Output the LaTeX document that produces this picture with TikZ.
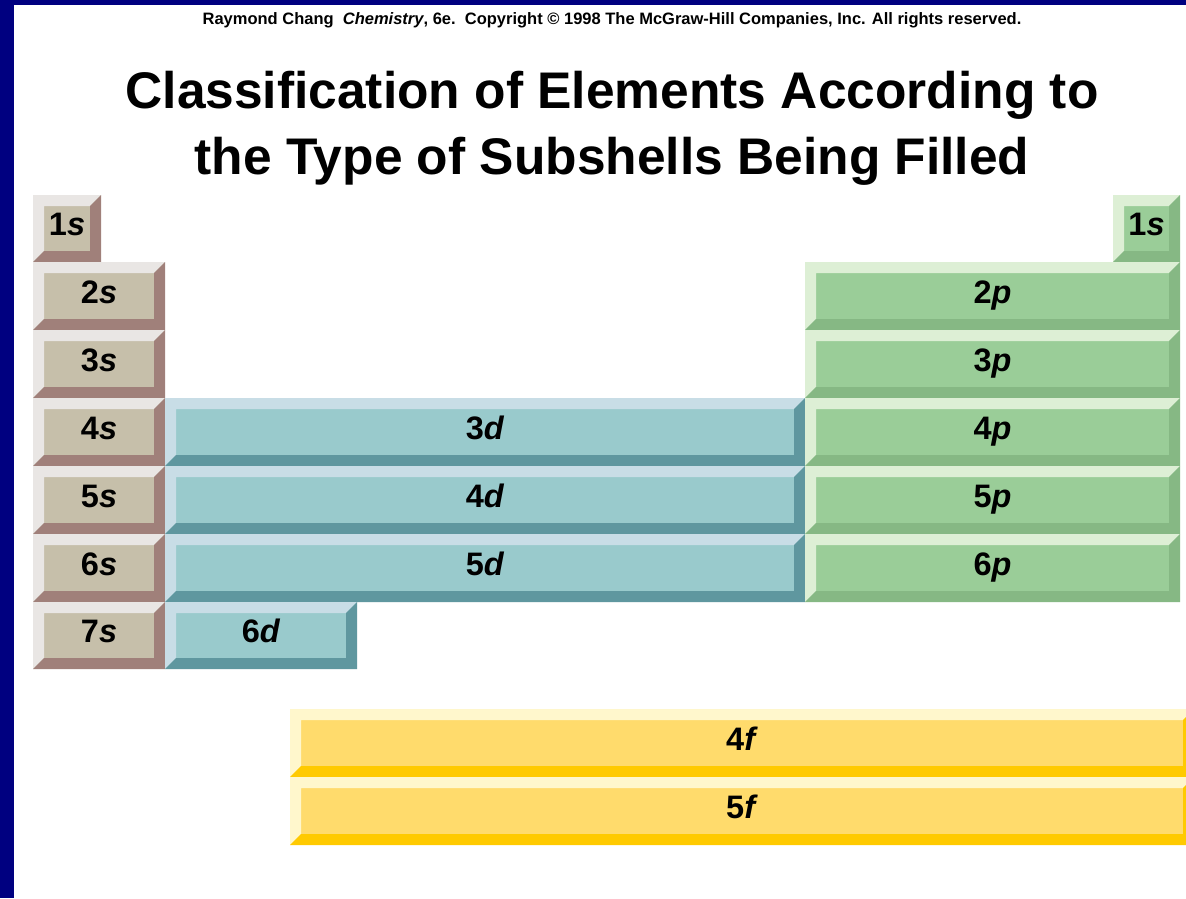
\documentclass[tikz,border=0pt]{standalone}
\usepackage{fontspec}
\setmainfont{Liberation Sans}
\definecolor{navy}{HTML}{000080}
\definecolor{sface}{HTML}{C6BFAA}
\definecolor{slight}{HTML}{E9E6E4}
\definecolor{sdark}{HTML}{A0807A}
\definecolor{dface}{HTML}{99CACC}
\definecolor{dlight}{HTML}{C8DDE6}
\definecolor{ddark}{HTML}{5F979F}
\definecolor{pface}{HTML}{9ACD98}
\definecolor{plight}{HTML}{DDEFD5}
\definecolor{pdark}{HTML}{86B884}
\definecolor{fface}{HTML}{FFDB6C}
\definecolor{flight}{HTML}{FFF7CC}
\definecolor{fdark}{HTML}{FFCA00}
\tikzstyle{shell} = [anchor=base, inner sep=0pt, font=\fontsize{32.5}{33}\selectfont\bfseries]
\tikzstyle{headline} = [anchor=base, inner sep=0pt, font=\fontsize{51.5}{52}\selectfont\bfseries]
\newcommand{\bev}{11}
% name, x0, y0, x1, y1, colour, text
\newcommand{\tile}[7]{%
  \fill[#6face] (#2,#3) rectangle (#4,#5);
  \fill[#6light] (#2,#5) -- (#2,#3) -- (#4,#3) -- (#4-\bev,#3+\bev) -- (#2+\bev,#3+\bev) -- (#2+\bev,#5-\bev) -- cycle;
  \fill[#6dark] (#4,#3) -- (#4,#5) -- (#2,#5) -- (#2+\bev,#5-\bev) -- (#4-\bev,#5-\bev) -- (#4-\bev,#3+\bev) -- cycle;
  \node[shell] (#1) at ({(#2+#4)/2},{(#3+#5)/2+7}) {#7};
}

\begin{document}
\begin{tikzpicture}[x=1pt,y=-1pt]
    \fill[navy] (0,0) rectangle (1186,898);
    \fill[white] (14,5) rectangle (1186,898);
    \clip (0,0) rectangle (1186,898);

    \node [anchor=base, inner sep=0pt, font=\fontsize{16.5}{17}\selectfont\bfseries] at (612,24) (credit)
        {Raymond Chang\ \ \textit{Chemistry}, 6e.\ \ Copyright \textcopyright\ 1998 The McGraw-Hill Companies, Inc. All rights reserved.};
    \node [headline] at (612,108) (title1) {Classification of Elements According to};
    \node [headline] at (612,174) (title2) {the Type of Subshells Being Filled};

    % s block
    \tile{s1l}{33}{195}{101}{262}{s}{1\textit{s}}
    \tile{s2}{33}{262}{165}{330}{s}{2\textit{s}}
    \tile{s3}{33}{330}{165}{398}{s}{3\textit{s}}
    \tile{s4}{33}{398}{165}{466}{s}{4\textit{s}}
    \tile{s5}{33}{466}{165}{534}{s}{5\textit{s}}
    \tile{s6}{33}{534}{165}{602}{s}{6\textit{s}}
    \tile{s7}{33}{602}{165}{669}{s}{7\textit{s}}

    % d block
    \tile{d3}{165}{398}{805}{466}{d}{3\textit{d}}
    \tile{d4}{165}{466}{805}{534}{d}{4\textit{d}}
    \tile{d5}{165}{534}{805}{602}{d}{5\textit{d}}
    \tile{d6}{165}{602}{357}{669}{d}{6\textit{d}}

    % p block
    \tile{s1r}{1113}{195}{1180}{262}{p}{1\textit{s}}
    \tile{p2}{805}{262}{1180}{330}{p}{2\textit{p}}
    \tile{p3}{805}{330}{1180}{398}{p}{3\textit{p}}
    \tile{p4}{805}{398}{1180}{466}{p}{4\textit{p}}
    \tile{p5}{805}{466}{1180}{534}{p}{5\textit{p}}
    \tile{p6}{805}{534}{1180}{602}{p}{6\textit{p}}

    % f block
    \tile{f4}{290}{709}{1194}{777}{f}{4\textit{f}}
    \tile{f5}{290}{777}{1194}{845}{f}{5\textit{f}}
\end{tikzpicture}
\end{document}
